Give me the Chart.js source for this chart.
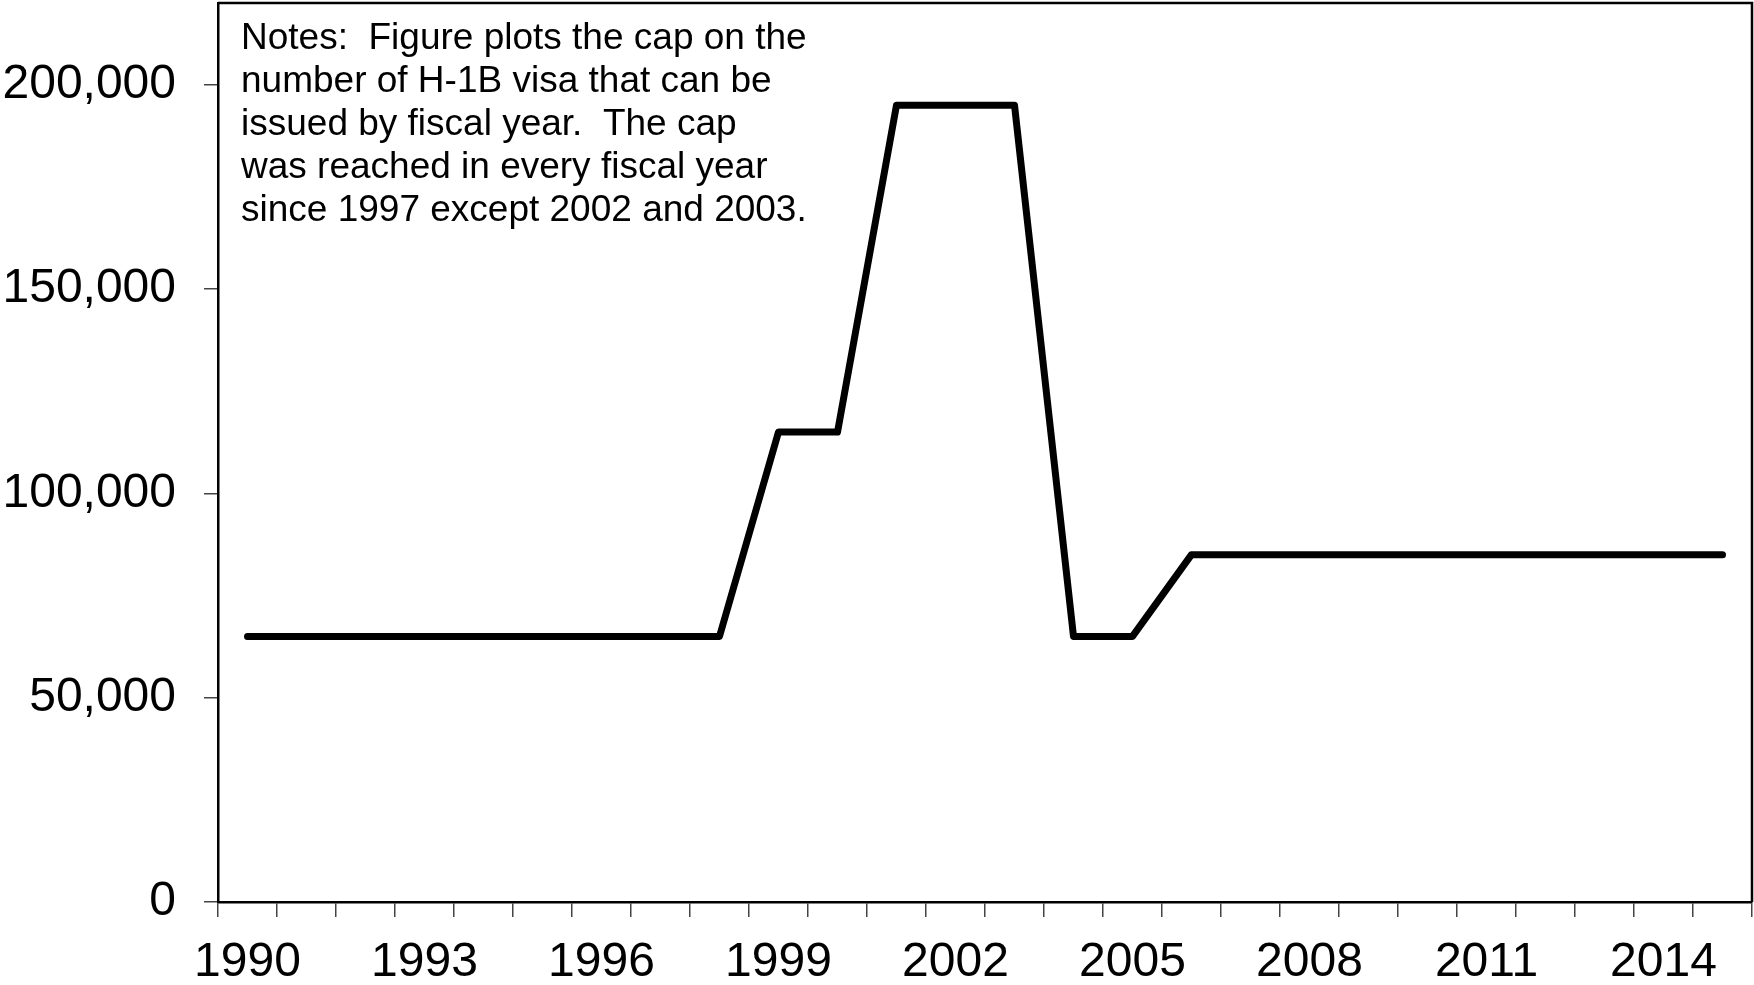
<!DOCTYPE html>
<html>
<head>
<meta charset="utf-8">
<script src="https://cdn.jsdelivr.net/npm/chart.js@4.4.1/dist/chart.umd.min.js"></script>
<style>
  html, body { margin: 0; padding: 0; background: #fff; }
  #wrap { width: 1754px; height: 985px; }
</style>
</head>
<body>
<div id="wrap"><canvas id="capChart"></canvas></div>
<script>
const years = [
  "1990", "1991", "1992", "1993", "1994", "1995", "1996", "1997", "1998",
  "1999", "2000", "2001", "2002", "2003", "2004", "2005", "2006", "2007",
  "2008", "2009", "2010", "2011", "2012", "2013", "2014", "2015",
];
const capValues = [
  65000, 65000, 65000, 65000, 65000, 65000, 65000, 65000, 65000,
  115000, 115000, 195000, 195000, 195000, 65000, 65000, 85000, 85000,
  85000, 85000, 85000, 85000, 85000, 85000, 85000, 85000,
];
const yTickValues = [0, 50000, 100000, 150000, 200000];
const noteLines = [
  "Notes:  Figure plots the cap on the",
  "number of H-1B visa that can be",
  "issued by fiscal year.  The cap",
  "was reached in every fiscal year",
  "since 1997 except 2002 and 2003.",
];

const FONT = "'Liberation Sans', Arial, sans-serif";

// frame on top/right plus the notes block in the upper-left corner
const frameAndNotes = {
  id: "frameAndNotes",
  afterDraw(chart) {
    const { ctx, chartArea } = chart;
    ctx.save();
    ctx.strokeStyle = "#000";
    ctx.lineWidth = 2.5;
    ctx.beginPath();
    ctx.moveTo(chartArea.left, chartArea.top);
    ctx.lineTo(chartArea.right, chartArea.top);
    ctx.lineTo(chartArea.right, chartArea.bottom);
    ctx.stroke();

    ctx.fillStyle = "#000";
    ctx.font = "37px " + FONT;
    ctx.textBaseline = "alphabetic";
    noteLines.forEach(function (line, i) {
      ctx.fillText(line, chartArea.left + 23, chartArea.top + 46 + i * 43);
    });
    ctx.restore();
  },
};

new Chart(document.getElementById("capChart"), {
  type: "line",
  data: {
    labels: years,
    datasets: [
      {
        label: "H-1B cap",
        data: capValues,
        borderColor: "#000",
        borderWidth: 7,
        borderCapStyle: "round",
        borderJoinStyle: "round",
        pointRadius: 0,
        tension: 0,
        fill: false,
      },
    ],
  },
  options: {
    responsive: true,
    maintainAspectRatio: false,
    animation: false,
    layout: { padding: { top: 3, right: 2, left: 0, bottom: 0 } },
    plugins: {
      legend: { display: false },
      title: { display: false },
      tooltip: { enabled: false },
    },
    scales: {
      x: {
        type: "category",
        offset: true,
        afterFit: function (scale) {
          scale.height = 83;
          scale.paddingLeft = 0;
          scale.paddingRight = 0;
        },
        grid: {
          offset: true,
          drawOnChartArea: false,
          drawTicks: true,
          tickLength: 15,
          color: "#444",
          lineWidth: 1.5,
        },
        border: { color: "#000", width: 2.5 },
        ticks: {
          autoSkip: false,
          maxRotation: 0,
          padding: 17,
          color: "#000",
          font: { size: 48, family: FONT },
          callback: function (value, index) {
            return index % 3 === 0 ? this.getLabelForValue(value) : "";
          },
        },
      },
      y: {
        min: 0,
        max: 220000,
        afterFit: function (scale) {
          scale.width = 218;
          scale.paddingTop = 0;
          scale.paddingBottom = 0;
        },
        afterBuildTicks: function (scale) {
          scale.ticks = yTickValues.map(function (v) {
            return { value: v };
          });
        },
        grid: {
          drawOnChartArea: false,
          drawTicks: true,
          tickLength: 14,
          color: "#444",
          lineWidth: 1.5,
        },
        border: { color: "#000", width: 2.5 },
        ticks: {
          padding: 28,
          color: "#000",
          font: { size: 48, family: FONT },
          callback: function (value) {
            return value.toLocaleString("en-US");
          },
        },
      },
    },
  },
  plugins: [frameAndNotes],
});
</script>
</body>
</html>
